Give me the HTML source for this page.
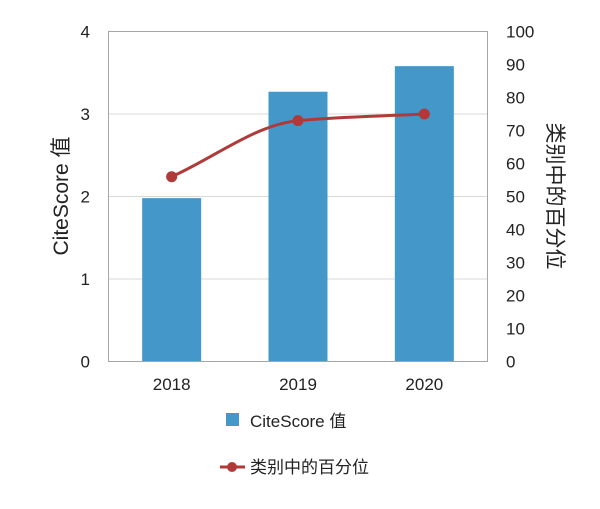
<!DOCTYPE html>
<html><head><meta charset="utf-8">
<style>
html,body{margin:0;padding:0;background:#fff;}
svg text{font-family:"Liberation Sans","Noto Sans CJK SC",sans-serif;fill:#222;}
</style></head>
<body>
<svg id="chart" width="600" height="504" viewBox="0 0 600 504" xmlns="http://www.w3.org/2000/svg">
<g id="grid"></g>
<g id="bars"></g>
<rect x="108.5" y="31.5" width="379" height="330" fill="none" stroke="#a6a6a6" stroke-width="1"/>
<g id="line"></g>
<g id="axes"></g>
<text transform="translate(68,196) rotate(-90)" text-anchor="middle" font-size="21">CiteScore 值</text>
<text transform="translate(548,196) rotate(90)" text-anchor="middle" font-size="21">类别中的百分位</text>
<g>
<rect x="226" y="413" width="13" height="13" fill="#4398c9"/>
<text x="250" y="427" font-size="17">CiteScore 值</text>
<line x1="220" y1="467" x2="245" y2="467" stroke="#b03a3a" stroke-width="3"/>
<circle cx="232" cy="467" r="5" fill="#b03a3a"/>
<text x="250" y="473" font-size="17">类别中的百分位</text>
</g>
</svg>
<script>
const categories = ["2018","2019","2020"];
const citeScores = [1.98, 3.27, 3.58];
const percentiles = [56, 73, 75];
const leftTicks = [0,1,2,3,4];
const rightTicks = [0,10,20,30,40,50,60,70,80,90,100];

const NS="http://www.w3.org/2000/svg";
const L=108.5, R=487.5, T=31.5, B=361.5;
const band=(R-L)/categories.length;
function xc(i){return L+band*(i+0.5);}
function yL(v){return B-(v/4)*(B-T);}
function yR(v){return B-(v/100)*(B-T);}
function mk(tag,attrs,parent){const e=document.createElementNS(NS,tag);for(const k in attrs)e.setAttribute(k,attrs[k]);parent.appendChild(e);return e;}

const grid=document.getElementById('grid');
leftTicks.forEach(t=>{
  if(t===0||t===4)return;
  const g=mk('line',{x1:L,x2:R,y1:yL(t),y2:yL(t),stroke:'#d9d9d9','stroke-width':1},grid);
  
  
});
const axes=document.getElementById('axes');
leftTicks.forEach(t=>{
  const e=mk('text',{x:90,y:yL(t)+6,'text-anchor':'end','font-size':17},axes);
  e.textContent=t;
  
  
});
rightTicks.forEach(t=>{
  const e=mk('text',{x:506,y:yR(t)+6,'text-anchor':'start','font-size':17},axes);
  e.textContent=t;
  
  
});
categories.forEach((c,i)=>{
  const e=mk('text',{x:xc(i),y:390,'text-anchor':'middle','font-size':17},axes);
  e.textContent=c;
  
  
});
const bars=document.getElementById('bars');
const bw=59;
citeScores.forEach((v,i)=>{
  const r=mk('rect',{x:xc(i)-bw/2,y:yL(v),width:bw,height:B-yL(v),fill:'#4398c9'},bars);
  
  
});
const lg=document.getElementById('line');
const pts=percentiles.map((v,i)=>[xc(i),yR(v)]);
// monotone cubic tangents
const n=pts.length, sl=[], m=[];
for(let i=0;i<n-1;i++) sl.push((pts[i+1][1]-pts[i][1])/(pts[i+1][0]-pts[i][0]));
for(let i=0;i<n;i++){
  if(i===0) m.push(sl[0]);
  else if(i===n-1) m.push(sl[n-2]);
  else m.push(sl[i-1]*sl[i]<=0?0:2/(1/sl[i-1]+1/sl[i]));
}
let d='M'+pts[0][0]+','+pts[0][1];
for(let i=0;i<n-1;i++){
  const h=(pts[i+1][0]-pts[i][0])/3;
  d+=' C'+(pts[i][0]+h)+','+(pts[i][1]+m[i]*h)+' '+(pts[i+1][0]-h)+','+(pts[i+1][1]-m[i+1]*h)+' '+pts[i+1][0]+','+pts[i+1][1];
}
const path=mk('path',{d:d,fill:'none',stroke:'#b03a3a','stroke-width':3},lg);


pts.forEach((p,i)=>{
  const c=mk('circle',{cx:p[0],cy:p[1],r:5.5,fill:'#b03a3a'},lg);
  
  
});
</script>
</body></html>
